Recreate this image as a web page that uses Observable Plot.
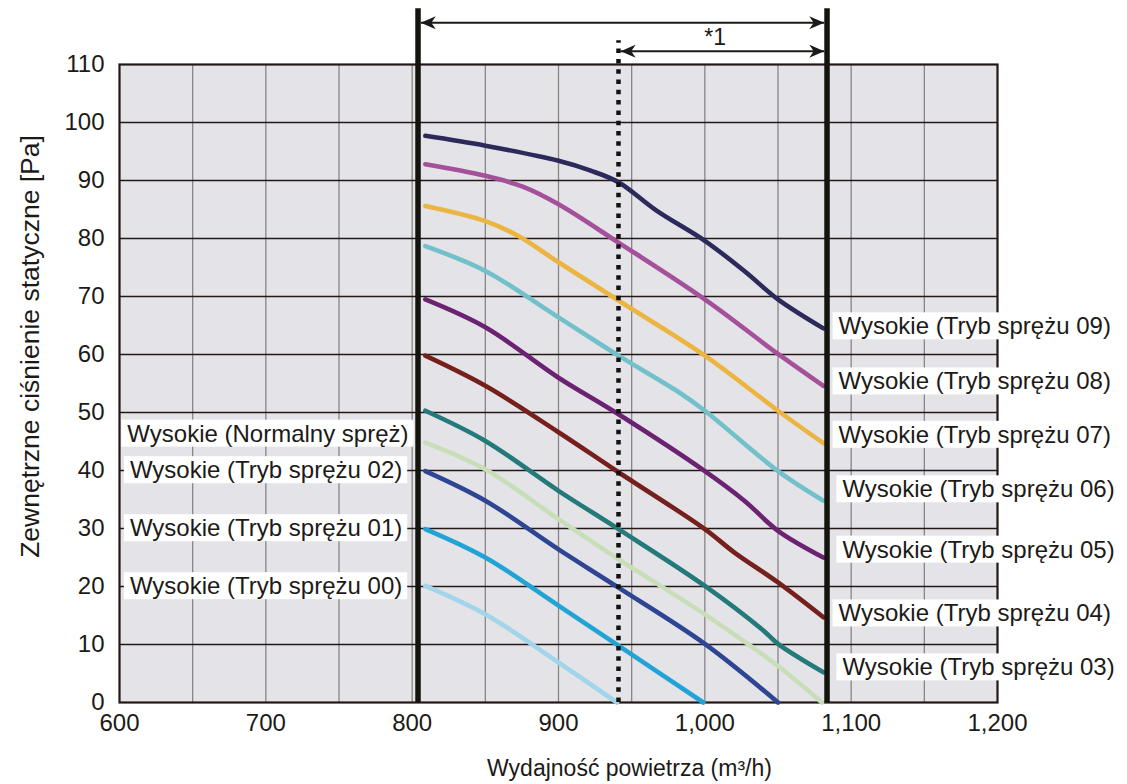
<!DOCTYPE html>
<html><head><meta charset="utf-8">
<script src="https://cdn.jsdelivr.net/npm/d3@7"></script>
<script src="https://cdn.jsdelivr.net/npm/@observablehq/plot@0.6"></script>
<style>body{margin:0;background:#fff}</style>
</head><body><div id="chart"></div>
<script>
// Air flow (m³/h) vs external static pressure (Pa)
const tryb09 = [[809,97.7],[850,96.0],[900,93.4],[922,91.7],[941,89.7],[967,84.8],[1000,79.6],[1027,74.4],[1050,69.5],[1081,64.5]];
const tryb08 = [[809,92.8],[850,90.8],[876,88.9],[900,85.9],[941,79.3],[1000,69.5],[1050,60.1],[1081,54.6]];
const tryb07 = [[809,85.6],[850,83.0],[872,80.5],[900,75.9],[941,69.3],[1000,59.8],[1050,50.3],[1081,44.7]];
const tryb06 = [[809,78.7],[850,74.4],[900,66.4],[941,59.8],[981,53.7],[1000,50.3],[1050,39.9],[1081,34.8]];
const tryb05 = [[809,69.5],[850,64.7],[900,56.0],[941,49.7],[1000,39.9],[1027,34.8],[1050,29.6],[1081,25.0]];
const tryb04 = [[809,59.8],[850,54.6],[900,46.6],[941,39.7],[1000,29.9],[1020,25.9],[1050,20.7],[1081,14.7]];
const tryb03 = [[809,50.3],[850,45.1],[900,36.5],[941,29.9],[1000,20.1],[1040,12.4],[1050,10.1],[1081,5.2]];
const normalny = [[809,44.8],[850,40.2],[900,31.6],[941,24.7],[1000,15.2],[1050,6.3],[1080,0]];
const tryb02 = [[809,39.9],[850,34.8],[900,26.4],[941,19.8],[1000,10.1],[1050,0]];
const tryb01 = [[809,29.9],[850,25.0],[900,16.7],[941,9.8],[999,0]];
const tryb00 = [[809,20.1],[850,15.2],[900,6.9],[940,0]];

const seriesNames = ["09","08","07","06","05","04","03","N","02","01","00"];
const seriesData  = [tryb09,tryb08,tryb07,tryb06,tryb05,tryb04,tryb03,normalny,tryb02,tryb01,tryb00];
const seriesColors = ["#2c2a5a","#a5509a","#ecb441","#72c0c9","#6c2272","#75201c","#24797a","#c8deb8","#2d4592","#22a3d6","#a2d4ea"];

const rightLabels = [
  {text:"Wysokie (Tryb sprężu 09)", x:1091.4, y:64.8},
  {text:"Wysokie (Tryb sprężu 08)", x:1091.4, y:55.3},
  {text:"Wysokie (Tryb sprężu 07)", x:1091.4, y:46.1},
  {text:"Wysokie (Tryb sprężu 06)", x:1094, y:36.7},
  {text:"Wysokie (Tryb sprężu 05)", x:1094, y:26.3},
  {text:"Wysokie (Tryb sprężu 04)", x:1091.4, y:15.3},
  {text:"Wysokie (Tryb sprężu 03)", x:1094, y:6.0}
];
const leftLabels = [
  {text:"Wysokie (Normalny spręż)", x:797.5, y:46.3},
  {text:"Wysokie (Tryb sprężu 02)", x:793.2, y:40},
  {text:"Wysokie (Tryb sprężu 01)", x:793.2, y:30},
  {text:"Wysokie (Tryb sprężu 00)", x:793.2, y:20}
];

// operating range annotations
const rangeMin = 804, rangeMax = 1083.5, starLimit = 941;
const topLineY = 119.6, arrowY1 = 117.2, arrowY2 = 112.3, dottedTop = 114.1;
const xTicks = d3.range(600, 1201, 100);
const yTicks = d3.range(0, 111, 10);

const rows = seriesData.flatMap((arr, i) => arr.map(([x, y]) => ({series: seriesNames[i], x, y})));

const ink = "#1c1a17";

function bigArrow(color, context) {
  const ns = "http://www.w3.org/2000/svg";
  const doc = (context && context.document) || document;
  const m = doc.createElementNS(ns, "marker");
  m.setAttribute("viewBox", "-15 -6.5 16 13");
  m.setAttribute("markerUnits", "userSpaceOnUse");
  m.setAttribute("markerWidth", "16");
  m.setAttribute("markerHeight", "13");
  m.setAttribute("refX", "0");
  m.setAttribute("refY", "0");
  m.setAttribute("orient", "auto-start-reverse");
  const p = doc.createElementNS(ns, "path");
  p.setAttribute("d", "M0,0L-15,-6.5L-10.5,0L-15,6.5Z");
  p.setAttribute("fill", color);
  p.setAttribute("stroke", "none");
  m.appendChild(p);
  return m;
}

function build(marker) {
  return Plot.plot({
    width: 1127, height: 784,
    marginLeft: 119, marginRight: 130, marginTop: 64, marginBottom: 82,
    style: {fontFamily: "'Liberation Sans', Arial, sans-serif", fontSize: "22px", color: ink, background: "#fff"},
    x: {domain: [600, 1200], axis: null},
    y: {domain: [0, 110], axis: null},
    color: {domain: seriesNames, range: seriesColors},
    marks: [
      Plot.frame({fill: "#e4e4e8", stroke: null}),
      Plot.ruleX(d3.range(650, 1200, 50), {stroke: "#8a8484", strokeWidth: 1.3}),
      Plot.ruleY(d3.range(10, 110, 10), {stroke: "#231815", strokeWidth: 1.3}),
      Plot.frame({stroke: "#231815", strokeWidth: 2.2}),
      Plot.line(rows, {x: "x", y: "y", z: "series", stroke: "series", strokeWidth: 4.6, curve: "catmull-rom", strokeLinecap: "round"}),
      Plot.ruleX([starLimit], {y1: 0, y2: dottedTop, stroke: "#111", strokeWidth: 4.5, strokeDasharray: "4.5,5.8"}),
      Plot.ruleX([rangeMin, rangeMax], {y1: 0, y2: topLineY, stroke: "#14140e", strokeWidth: 5.5}),
      Plot.link([{x1: rangeMin + 1.9, x2: rangeMax - 1.9, y: arrowY1}, {x1: starLimit + 1.5, x2: rangeMax - 1.9, y: arrowY2}],
        {x1: "x1", x2: "x2", y1: "y", y2: "y", stroke: ink, strokeWidth: 2, markerStart: marker, markerEnd: marker}),
      Plot.text(["*1"], {x: 1007, y: 114.6, fontSize: 23, fill: ink}),
      Plot.text(xTicks, {x: d => d, frameAnchor: "bottom", lineAnchor: "top", dy: 11, text: d3.format(","), fontSize: 24, fill: ink}),
      Plot.text(yTicks, {y: d => d, frameAnchor: "left", textAnchor: "end", dx: -15, text: d => String(d), fontSize: 24, fill: ink}),
      Plot.text(["Wydajność powietrza (m³/h)"], {frameAnchor: "bottom", dx: 71, dy: 73, fontSize: 23, fill: ink}),
      Plot.text(["Zewnętrzne ciśnienie statyczne [Pa]"], {frameAnchor: "left", textAnchor: "middle", rotate: -90, dx: -89, dy: -37, fontSize: 26.5, fill: ink}),
      Plot.text(rightLabels, {x: "x", y: "y", text: "text", textAnchor: "start", fontSize: 24, fill: ink}),
      Plot.text(leftLabels, {x: "x", y: "y", text: "text", textAnchor: "end", fontSize: 24, fill: ink})
    ]
  });
}

let plot;
try { plot = build(bigArrow); } catch (e) { plot = build("arrow"); }
document.getElementById("chart").appendChild(plot);

// white boxes behind the series labels
plot.querySelectorAll("text").forEach(t => {
  if (!t.textContent.startsWith("Wysokie")) return;
  const b = t.getBBox();
  const r = document.createElementNS("http://www.w3.org/2000/svg", "rect");
  r.setAttribute("x", b.x - 6);
  r.setAttribute("y", b.y);
  r.setAttribute("width", b.width + 11);
  r.setAttribute("height", b.height);
  r.setAttribute("fill", "#fff");
  r.setAttribute("stroke", "none");
  const tr = t.getAttribute("transform");
  if (tr) r.setAttribute("transform", tr);
  t.parentNode.insertBefore(r, t);
});
</script></body></html>
